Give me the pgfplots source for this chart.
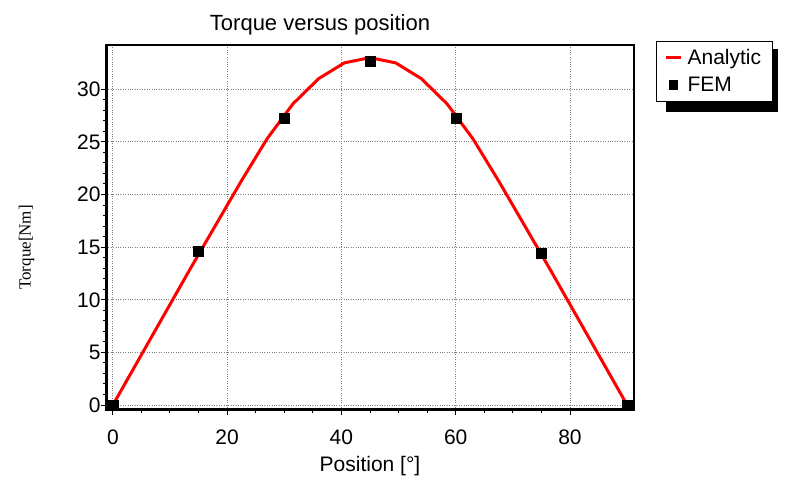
\documentclass[border=0pt]{standalone}
\usepackage{pgfplots}
\pgfplotsset{compat=1.18}
\usepackage{fontspec}
\setmainfont{Liberation Sans}
\newfontfamily\timesfont{Liberation Serif}
\begin{document}
\begin{tikzpicture}[x=1pt,y=1pt]
\useasboundingbox (0,0) rectangle (807,488);
\fill[black] (666,376) rectangle (778,439);
\begin{axis}[
  at={(106pt,78pt)}, anchor=south west,
  width=528pt, height=365pt, scale only axis,
  xmin=-1.2, xmax=91.2, ymin=-0.47, ymax=34.2,
  xtick={0,20,40,60,80}, ytick={0,5,10,15,20,25,30},
  minor x tick num=3, minor y tick num=4,
  tick pos=left, tick align=outside,
  major tick length=5pt, minor tick length=3pt,
  tick style={black, line width=1pt},
  grid=major, major grid style={gray, dotted, line width=0.8pt},
  axis line style={black, line width=1.2pt},
  /pgf/number format/assume math mode=true,
  tick label style={font=\fontsize{21}{24}\selectfont},
  xticklabel style={yshift=-11pt},
  yticklabel style={xshift=3pt},
  title={Torque versus position},
  title style={font=\fontsize{22}{26}\selectfont, xshift=-50pt},
  xlabel={Position [°]},
  xlabel style={font=\fontsize{21}{24}\selectfont, yshift=-5pt},
  ylabel={\timesfont Torque[Nm]},
  ylabel style={font=\fontsize{17}{20}\selectfont, yshift=36pt, xshift=-20pt},
  legend style={at={(rel axis cs:1.0417,1.011)}, anchor=north west,
    draw=black, line width=1.2pt, fill=white,
    font=\fontsize{21}{24}\selectfont, row sep=7pt, inner xsep=8pt, inner ysep=6pt,
    text width=75pt},
  legend cell align=left,
]
\addplot[red, line width=3pt, line join=round,
  legend image code/.code={\draw[red, line width=3pt] (0pt,0pt) -- (15pt,0pt); \path (18pt,0pt);}] coordinates {
(0,0) (4.5,4.3) (9,8.6) (13.5,12.9) (18,17.1) (22.5,21.3) (27,25.3)
(31.5,28.6) (36,31.0) (40.5,32.5) (45,33.0) (49.5,32.5) (54,31.0)
(58.5,28.6) (63,25.3) (67.5,21.3) (72,17.1) (76.5,12.9) (81,8.6)
(85.5,4.3) (90,0)};
\addlegendentry{Analytic}
\addplot[only marks, mark=square*, mark size=5pt, black,
  legend image code/.code={\path (0pt,0pt); \fill[black] (3pt,-4.5pt) rectangle (11pt,4.5pt); \path (18pt,0pt);}]
  coordinates {(0,0) (15,14.6) (30,27.2) (45,32.7) (60,27.2) (75,14.4) (90,0)};
\addlegendentry{FEM}
\draw[black, line width=4pt, line cap=rect] (rel axis cs:0,1) -- (rel axis cs:0,0) -- (rel axis cs:1,0);
\end{axis}
\end{tikzpicture}
\end{document}
